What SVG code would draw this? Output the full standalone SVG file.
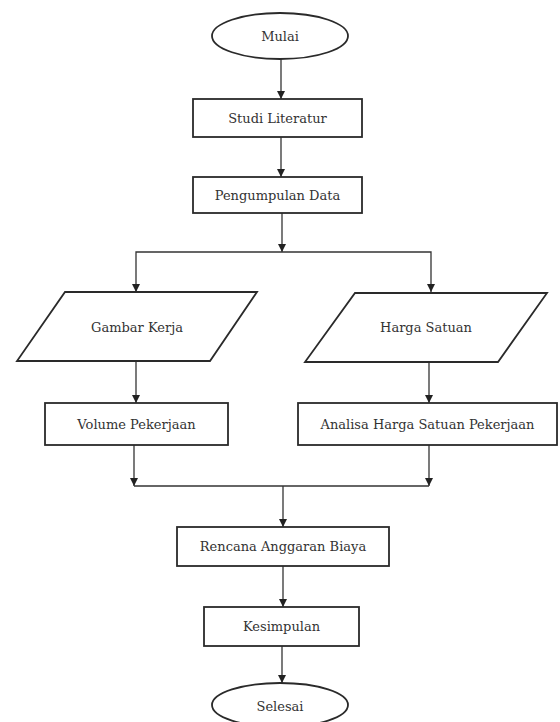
<svg xmlns="http://www.w3.org/2000/svg" width="560" height="722" viewBox="0 0 560 722">
<defs>
<marker id="ah" viewBox="0 0 10 10" refX="10" refY="5" markerWidth="8" markerHeight="8" markerUnits="userSpaceOnUse" orient="auto">
<path d="M0,0 L10,5 L0,10 z" fill="#222"/>
</marker>
<style>
.s{fill:#fff;stroke:#2a2a2a;stroke-width:1.8}
.t{font-family:"DejaVu Serif","Liberation Serif",serif;font-size:13px;fill:#333;text-anchor:middle}
.c{fill:none;stroke:#333;stroke-width:1.3}
.a{marker-end:url(#ah)}
</style>
</defs>
<rect width="560" height="722" fill="#fff"/>
<g id="connectors">
<line class="c a" x1="281" y1="59" x2="281" y2="99"/>
<line class="c a" x1="281" y1="137" x2="281" y2="177"/>
<line class="c a" x1="282" y1="213" x2="282" y2="252"/>
<polyline class="c a" points="282,252 136,252 136,292"/>
<polyline class="c a" points="282,252 431,252 431,292"/>
<line class="c a" x1="136" y1="362" x2="136" y2="403"/>
<line class="c a" x1="429" y1="362" x2="429" y2="403"/>
<line class="c a" x1="134" y1="445" x2="134" y2="486"/>
<line class="c a" x1="429" y1="445" x2="429" y2="486"/>
<line class="c" x1="134" y1="486" x2="429" y2="486"/>
<line class="c a" x1="283" y1="486" x2="283" y2="527"/>
<line class="c a" x1="283" y1="566" x2="283" y2="607"/>
<line class="c a" x1="282" y1="646" x2="282" y2="683"/>
</g>
<g id="mulai">
<ellipse class="s" cx="280" cy="36" rx="68" ry="23"/>
<text class="t" x="280" y="41">Mulai</text>
</g>
<g id="studi">
<rect class="s" x="193" y="99" width="169" height="38"/>
<text class="t" x="277.5" y="123">Studi Literatur</text>
</g>
<g id="pengumpulan">
<rect class="s" x="193" y="177" width="169" height="36"/>
<text class="t" x="277.5" y="200">Pengumpulan Data</text>
</g>
<g id="gambar">
<polygon class="s" points="65,292 257,292 210,361 17,361"/>
<text class="t" x="137" y="332">Gambar Kerja</text>
</g>
<g id="harga">
<polygon class="s" points="355,293 547,293 498,362 305,362"/>
<text class="t" x="426" y="332">Harga Satuan</text>
</g>
<g id="volume">
<rect class="s" x="45" y="403" width="183" height="42"/>
<text class="t" x="136.5" y="429">Volume Pekerjaan</text>
</g>
<g id="analisa">
<rect class="s" x="298" y="403" width="259" height="42"/>
<text class="t" x="427.5" y="429">Analisa Harga Satuan Pekerjaan</text>
</g>
<g id="rencana">
<rect class="s" x="177" y="527" width="212" height="39"/>
<text class="t" x="283" y="551">Rencana Anggaran Biaya</text>
</g>
<g id="kesimpulan">
<rect class="s" x="204" y="607" width="155" height="39"/>
<text class="t" x="281.5" y="631">Kesimpulan</text>
</g>
<g id="selesai">
<ellipse class="s" cx="280" cy="705" rx="68" ry="22"/>
<text class="t" x="280" y="711">Selesai</text>
</g>
</svg>
